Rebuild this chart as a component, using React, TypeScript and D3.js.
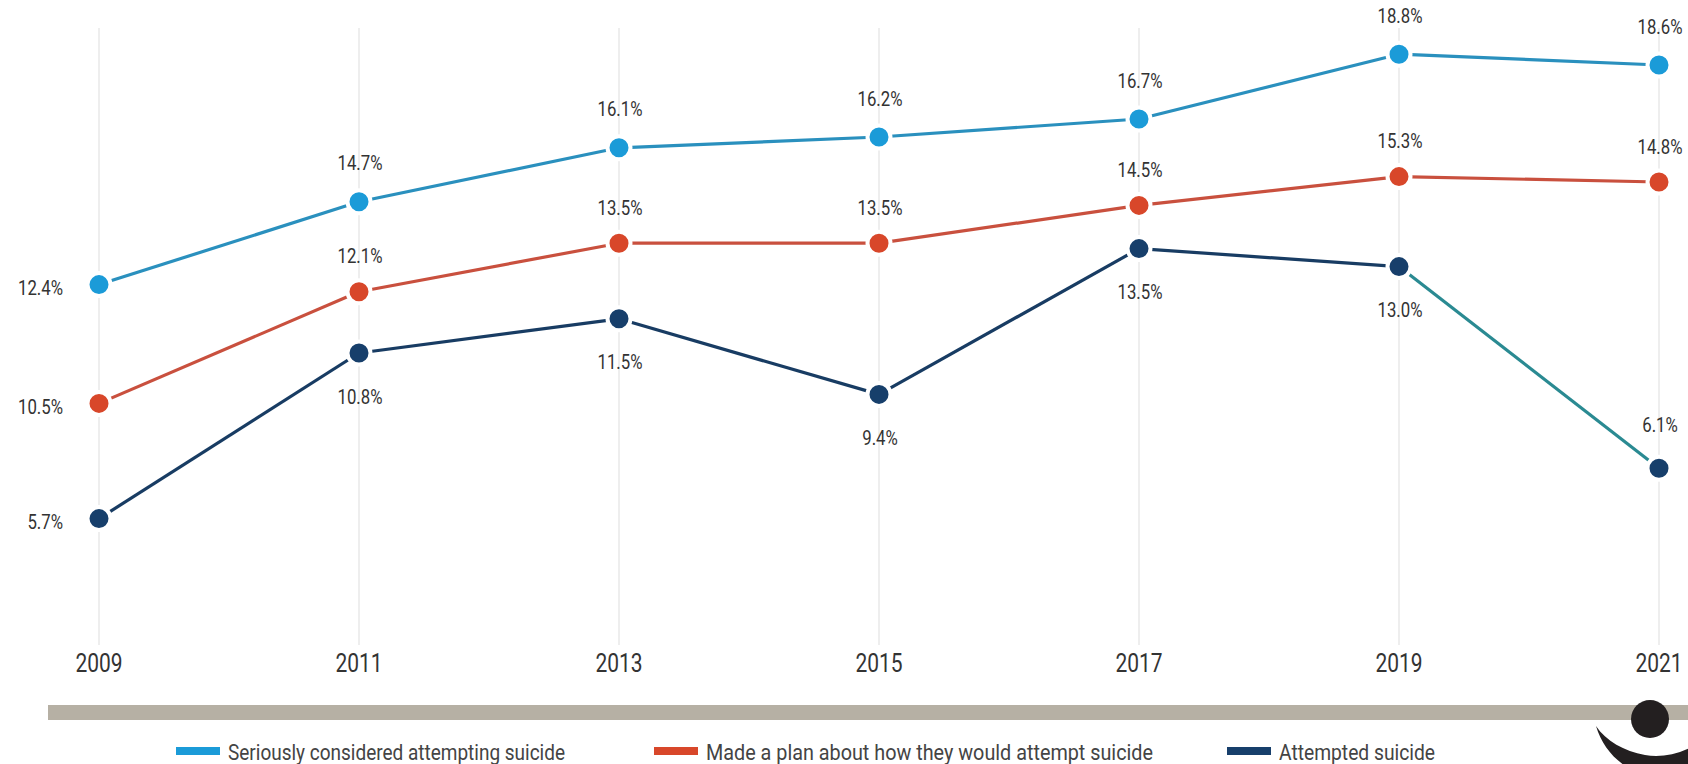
import React from "react";
import * as d3 from "d3";

const years = ["2009", "2011", "2013", "2015", "2017", "2019", "2021"];

// plotted positions (percent units)
const consideredValues = [12.4, 14.7, 16.2, 16.5, 17.0, 18.8, 18.5];
const planValues = [9.1, 12.2, 13.55, 13.55, 14.6, 15.4, 15.25];
const attemptedValues = [5.9, 10.5, 11.45, 9.35, 13.4, 12.9, 7.3];

// printed labels
const consideredLabels = ["12.4%", "14.7%", "16.1%", "16.2%", "16.7%", "18.8%", "18.6%"];
const planLabels = ["10.5%", "12.1%", "13.5%", "13.5%", "14.5%", "15.3%", "14.8%"];
const attemptedLabels = ["5.7%", "10.8%", "11.5%", "9.4%", "13.5%", "13.0%", "6.1%"];

const legendLabels = [
  "Seriously considered attempting suicide",
  "Made a plan about how they would attempt suicide",
  "Attempted suicide",
];

const FONT = "Roboto, 'Noto Sans', sans-serif";

function CText(props: {
  x: number; y: number; sx: number; size: number; anchor: string; fill: string; children: React.ReactNode;
}) {
  return (
    <g transform={`translate(${props.x},${props.y}) scale(${props.sx},1)`}>
      <text x={0} y={0} textAnchor={props.anchor as any} fontFamily={FONT} fontSize={props.size} fill={props.fill}>
        {props.children}
      </text>
    </g>
  );
}

export default function App() {
  const W = 1688;
  const H = 764;
  const x = d3.scalePoint<string>().domain(years).range([99, 1659]);
  const y = d3.scaleLinear().domain([0, 20]).range([731, 11]);

  const series = [
    { key: "considered", values: consideredValues, labels: consideredLabels, marker: "#1b9bd8", line: "#2a90be", lastLine: "#2a90be", side: "above", dy: -39 },
    { key: "plan", values: planValues, labels: planLabels, marker: "#d8472a", line: "#c9503e", lastLine: "#c9503e", side: "above", dy: -36 },
    { key: "attempted", values: attemptedValues, labels: attemptedLabels, marker: "#173f6b", line: "#183c63", lastLine: "#2a8a92", side: "below", dy: 43 },
  ];

  const legendX = [176, 654, 1227];
  const legendTextW = [337, 447, 156];

  return (
    <svg width={W} height={H} style={{ position: "absolute", left: 0, top: 0, background: "#fff" }}>
      {/* vertical grid lines */}
      {years.map((yr) => (
        <line key={yr} x1={x(yr)} x2={x(yr)} y1={28} y2={645} stroke="#eeeeee" strokeWidth={2} />
      ))}
      {/* lines */}
      {series.map((s) =>
        s.values.slice(1).map((v, i) => {
          const isLast = i === s.values.length - 2;
          return (
            <line
              key={s.key + "seg" + i}
              x1={x(years[i])}
              y1={y(s.values[i])}
              x2={x(years[i + 1])}
              y2={y(v)}
              stroke={isLast ? s.lastLine : s.line}
              strokeWidth={3.2}
            />
          );
        })
      )}
      {/* markers */}
      {series.map((s) =>
        s.values.map((v, i) => (
          <circle key={s.key + "m" + i} cx={x(years[i])} cy={y(v)} r={11.5} fill={s.marker} stroke="#fff" strokeWidth={4} />
        ))
      )}
      {/* value labels */}
      {series.map((s) =>
        s.values.map((v, i) => {
          const cx = x(years[i]) as number;
          const cy = y(v);
          if (i === 0) {
            return (
              <CText key={s.key + "l" + i} x={cx - 36} y={cy + 3 + 7.5} sx={0.8} size={21} anchor="end" fill="#333">
                {s.labels[i]}
              </CText>
            );
          }
          let dy = s.dy;
          if (s.side === "below" && i === s.values.length - 1) dy = -44;
          return (
            <CText key={s.key + "l" + i} x={cx + 1} y={cy + dy + 7.5} sx={0.8} size={21} anchor="middle" fill="#333">
              {s.labels[i]}
            </CText>
          );
        })
      )}
      {/* year labels */}
      {years.map((yr) => (
        <CText key={"yr" + yr} x={x(yr) as number} y={672} sx={0.84} size={25} anchor="middle" fill="#333">
          {yr}
        </CText>
      ))}
      {/* gray band */}
      <rect x={48} y={705} width={W - 48} height={15} fill="#b6b0a4" />
      {/* legend */}
      {legendLabels.map((lab, i) => (
        <g key={"lg" + i} transform={`translate(${legendX[i]},0)`}>
          <rect x={0} y={747} width={44} height={8} fill={series[i].marker} />
          <text x={52} y={760} fontFamily={FONT} fontSize={22} fill="#444"
            textLength={legendTextW[i]} lengthAdjust="spacingAndGlyphs">
            {lab}
          </text>
        </g>
      ))}
      {/* logo */}
      <circle cx={1650} cy={719} r={19} fill="#231f20" />
      <path d="M1596,726 C1608,766 1650,790 1700,772 L1700,742 C1682,754 1662,758 1645,755 C1624,751 1606,741 1596,726 Z" fill="#231f20" />
    </svg>
  );
}
